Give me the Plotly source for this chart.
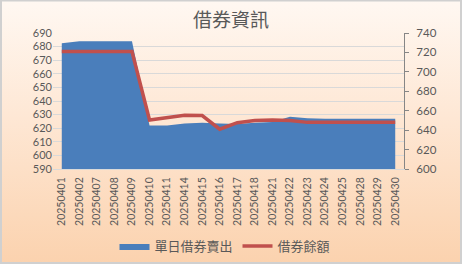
import plotly.graph_objects as go
import urllib.parse

dates = ["20250401", "20250402", "20250407", "20250408", "20250409", "20250410",
         "20250411", "20250414", "20250415", "20250416", "20250417", "20250418",
         "20250421", "20250422", "20250423", "20250424", "20250425", "20250428",
         "20250429", "20250430"]
daily_short_sell = [682.5, 684, 684, 684, 684, 622, 622, 623.5, 624, 623.5,
                    623, 624, 624.5, 628.5, 627.3, 627, 627, 627, 627, 627]
lending_balance = [721, 721, 721, 721, 721, 650.5, 652.8, 655.3, 655, 641,
                   647.7, 649.8, 650.5, 649.8, 648, 648, 648, 648, 648, 648]

W, H = 462, 264
ML, MR, MT, MB = 53, 58, 33, 95
PW, PH = W - ML - MR, H - MT - MB

svg = ('<svg xmlns="http://www.w3.org/2000/svg" width="462" height="264" preserveAspectRatio="none">'
       '<defs><linearGradient id="g" x1="0" y1="0" x2="0" y2="1">'
       '<stop offset="0" stop-color="#fff8f2"/><stop offset="0.45" stop-color="#fee7d4"/>'
       '<stop offset="1" stop-color="#fbd2ae"/></linearGradient></defs>'
       '<rect width="462" height="264" fill="url(#g)"/></svg>')
bg_src = "data:image/svg+xml;charset=utf-8," + urllib.parse.quote(svg)

fx0 = -ML / PW
fx1 = (W - ML) / PW
fy1 = (H - MB) / PH
fy0 = -MB / PH

fig = go.Figure()
fig.add_trace(go.Scatter(
    x=dates, y=daily_short_sell, name="單日借券賣出", mode="lines",
    line=dict(color="#4a7ebb", width=0), fill="tozeroy", fillcolor="#4a7ebb",
    yaxis="y"))
fig.add_trace(go.Scatter(
    x=dates, y=lending_balance, name="借券餘額", mode="lines",
    line=dict(color="#c0504d", width=3.5), yaxis="y2"))

font_cjk = "Lato, 'Noto Sans CJK TC', sans-serif"
fig.update_layout(
    width=W, height=H,
    margin=dict(l=ML, r=MR, t=MT, b=MB, autoexpand=False),
    paper_bgcolor="rgba(0,0,0,0)", plot_bgcolor="rgba(0,0,0,0)",
    font=dict(family=font_cjk, color="#595959", size=11),
    title=dict(text="借券資訊", x=0.5, xanchor="center", y=1 - 20 / H, yanchor="middle",
               font=dict(size=19, color="#595959", family="'Noto Sans CJK TC', sans-serif")),
    showlegend=True,
    legend=dict(orientation="h", x=0.49, xanchor="center", y=(PH - (246 - MT)) / PH,
                yanchor="middle", font=dict(size=13, color="#595959",
                                            family="'Noto Sans CJK TC', sans-serif"),
                bgcolor="rgba(0,0,0,0)", itemwidth=30, tracegroupgap=0),
    xaxis=dict(type="category", range=[-0.5, len(dates) - 0.5], tickangle=-90,
               tickfont=dict(size=10.5, color="#595959"), showgrid=False,
               showline=True, linecolor="#d9d9d9", linewidth=1,
               ticks="", automargin=False, ticklabelstandoff=3),
    yaxis=dict(range=[590, 690], dtick=10, tick0=590, showgrid=True,
               gridcolor="#d9d9d9", gridwidth=1, zeroline=False, showline=False,
               tickfont=dict(size=11, color="#595959"), ticks="", automargin=False),
    yaxis2=dict(range=[600, 740], dtick=20, tick0=600, overlaying="y", side="right",
                showgrid=False, zeroline=False, showline=True, linecolor="#868686",
                linewidth=1, ticks="outside", ticklen=4, tickcolor="#868686",
                tickfont=dict(size=11.5, color="#595959"), automargin=False,
                ticklabelstandoff=5),
    images=[dict(source=bg_src, xref="paper", yref="paper", x=fx0, y=fy1,
                 sizex=fx1 - fx0, sizey=fy1 - fy0, sizing="stretch",
                 xanchor="left", yanchor="top", layer="below")],
    shapes=[dict(type="rect", xref="paper", yref="paper",
                 x0=fx0 + 1 / PW, x1=fx1 - 1 / PW, y0=fy0 + 1 / PH, y1=fy1 - 0.5 / PH,
                 line=dict(color="#d0d0d0", width=2), fillcolor="rgba(0,0,0,0)",
                 layer="above")],
)

fig.write_html("out.html")
